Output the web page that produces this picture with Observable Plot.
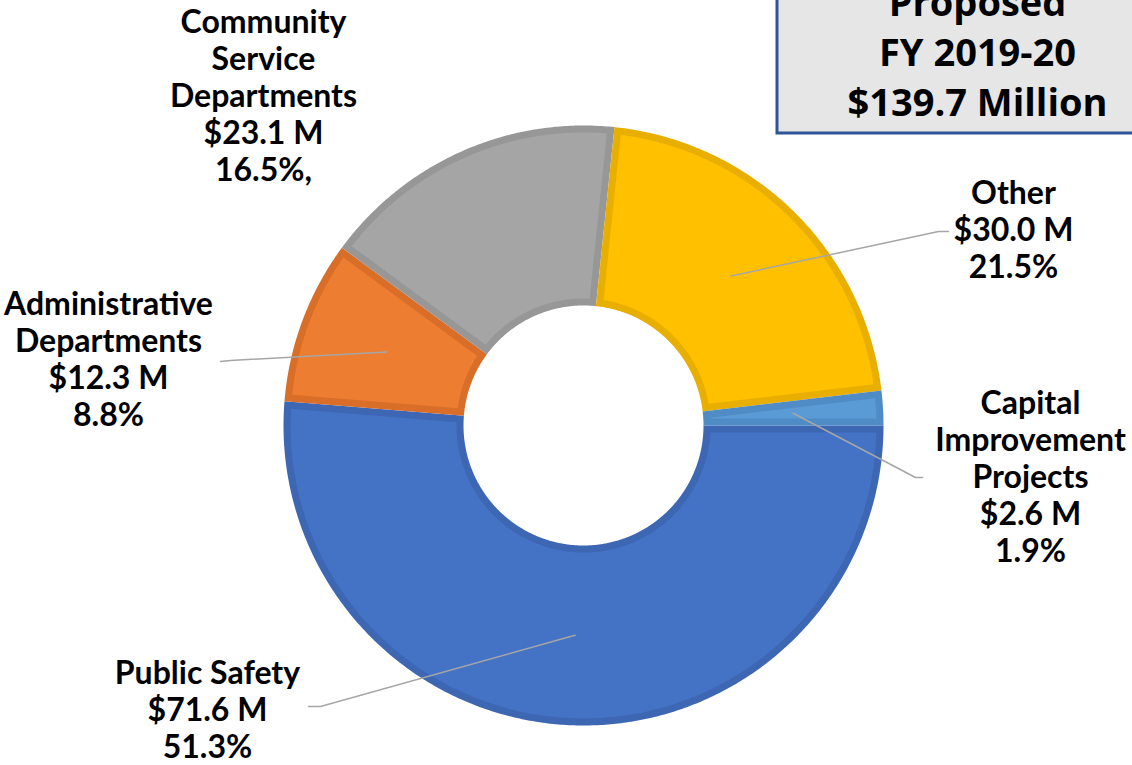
<!DOCTYPE html>
<html><head><meta charset="utf-8">
<script src="https://cdn.jsdelivr.net/npm/d3@7"></script>
<script src="https://cdn.jsdelivr.net/npm/@observablehq/plot@0.6"></script>
<style>body{margin:0;background:#fff;}</style>
</head><body><div id="chart"></div>
<script>
// ---- data ----
const categories = ["Public Safety", "Administrative Departments", "Community Service Departments", "Other", "Capital Improvement Projects"];
const nameLines = [["Public Safety"], ["Administrative", "Departments"], ["Community", "Service", "Departments"], ["Other"], ["Capital", "Improvement", "Projects"]];
const amounts = [71.6, 12.3, 23.1, 30.0, 2.6];
const amountLabels = ["$71.6 M", "$12.3 M", "$23.1 M", "$30.0 M", "$2.6 M"];
const percentLabels = ["51.3%", "8.8%", "16.5%,", "21.5%", "1.9%"];
const boxLines = ["Proposed", "FY 2019-20", "$139.7 Million"];

// ---- styles ----
const fillColors = ["#4472C4", "#ED7D31", "#A5A5A5", "#FFC000", "#5B9BD5"];
const borderColors = ["#3D66B3", "#D86E28", "#979797", "#E9AF00", "#4F8BC4"];

// ---- layout (pixel units relative to donut centre, y up) ----
const W = 1132, H = 765;
const cx = 583, cy = 425;
const R = 300, r0 = 120, inset = 7;
const labelPos = [
  {x: -376, y: -232, elbow: [-263, -281], end: [-275, -281]},
  {x: -475, y: 137, elbow: [-353, 65], end: [-363, 64]},
  {x: -320, y: 419, elbow: null, end: null},
  {x: 430, y: 248, elbow: [355, 194], end: [365, 194]},
  {x: 447, y: 38, elbow: [332, -52], end: [339, -52]}
];
const boxPos = {x1: 777 - cx, x2: W + 10 - cx, y1: cy - 133, y2: cy + 10, tx: 977 - cx, ty: cy + 20};

// ---- geometry ----
const table = categories.map((c, i) => ({category: c, value: amounts[i], i}));
const arcs = d3.pie().sort(null).value(d => d.value)
  .startAngle(Math.PI / 2).endAngle(Math.PI / 2 + 2 * Math.PI)(table);

function ring(a0, a1, ro, ri, dOut, dIn) {
  const pts = [];
  const oa0 = a0 + dOut / ro, oa1 = a1 - dOut / ro;
  const ia0 = a0 + dIn / ri, ia1 = a1 - dIn / ri;
  const n = Math.max(4, Math.ceil((a1 - a0) / (Math.PI / 360)));
  for (let k = 0; k <= n; k++) {
    const a = oa0 + (oa1 - oa0) * k / n;
    pts.push([ro * Math.sin(a), ro * Math.cos(a)]);
  }
  for (let k = n; k >= 0; k--) {
    const a = ia0 + (ia1 - ia0) * k / n;
    pts.push([ri * Math.sin(a), ri * Math.cos(a)]);
  }
  pts.push(pts[0]);
  return pts;
}

const outerPolys = [], innerPolys = [];
arcs.forEach(a => {
  const i = a.data.i;
  ring(a.startAngle, a.endAngle, R, r0, 0, 0).forEach(([x, y]) => outerPolys.push({id: i, x, y, color: borderColors[i]}));
  ring(a.startAngle, a.endAngle, R - inset, r0 + inset, inset, inset).forEach(([x, y]) => innerPolys.push({id: i, x, y, color: fillColors[i]}));
});

const leaders = [];
arcs.forEach(a => {
  const i = a.data.i, L = labelPos[i];
  if (!L.elbow) return;
  const mid = (a.startAngle + a.endAngle) / 2, rm = (R + r0) / 2;
  leaders.push({id: i, x: rm * Math.sin(mid), y: rm * Math.cos(mid)});
  leaders.push({id: i, x: L.elbow[0], y: L.elbow[1]});
  leaders.push({id: i, x: L.end[0], y: L.end[1]});
});

const labels = categories.map((c, i) => ({
  x: labelPos[i].x, y: labelPos[i].y,
  text: [...nameLines[i], amountLabels[i], percentLabels[i]].join("\n")
}));

const chart = Plot.plot({
  width: W, height: H,
  margin: 0,
  x: {domain: [-cx, W - cx], axis: null},
  y: {domain: [cy - H, cy], axis: null},
  color: {type: "identity"},
  style: {background: "#fff", overflow: "visible"},
  marks: [
    Plot.line(outerPolys, {x: "x", y: "y", z: "id", fill: "color", stroke: "none"}),
    Plot.line(innerPolys, {x: "x", y: "y", z: "id", fill: "color", stroke: "none"}),
    Plot.line(leaders, {x: "x", y: "y", z: "id", stroke: "#A6A6A6", strokeWidth: 1.5}),
    Plot.text(labels, {x: "x", y: "y", text: "text", textAnchor: "middle", lineAnchor: "top",
      lineHeight: 1.156, fontSize: 32, fontWeight: "bold", fontFamily: "Lato", fill: "#000"}),
    Plot.rect([boxPos], {x1: "x1", x2: "x2", y1: "y1", y2: "y2", fill: "#E7E6E6", stroke: "#2F5597", strokeWidth: 3}),
    Plot.text([boxPos], {x: "tx", y: "ty", text: () => boxLines.join("\n"), textAnchor: "middle", lineAnchor: "top",
      lineHeight: 1.316, fontSize: 38, fontWeight: "bold", fontFamily: "Open Sans", fill: "#000"})
  ]
});
document.getElementById("chart").appendChild(chart);
</script>
</body></html>
